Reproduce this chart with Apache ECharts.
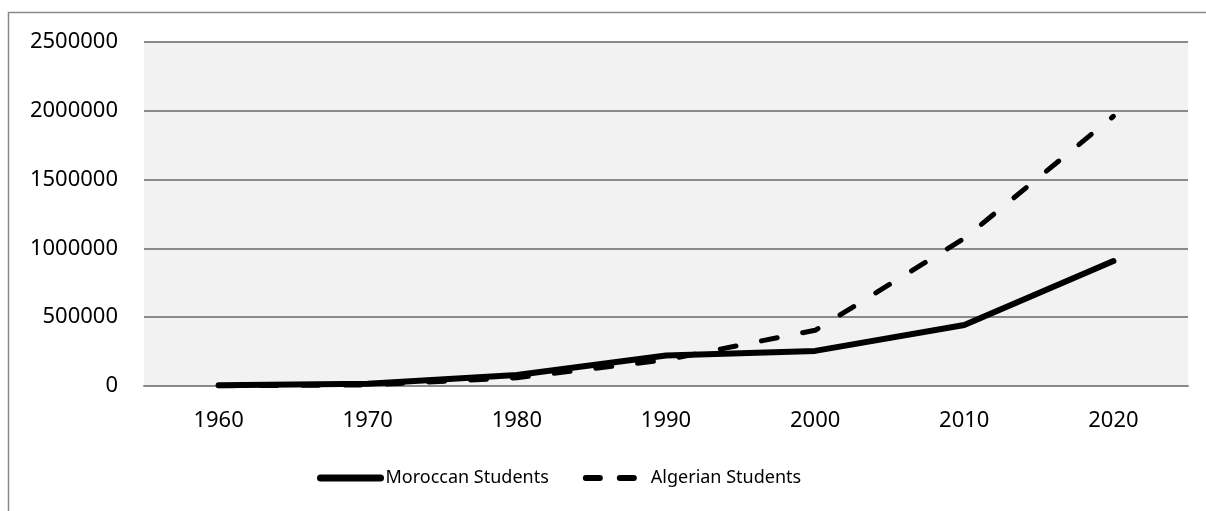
<!DOCTYPE html>
<html>
<head>
<meta charset="utf-8">
<script src="https://cdn.jsdelivr.net/npm/echarts@6/dist/echarts.min.js"></script>
<style>
  html, body { margin: 0; padding: 0; background: #fff; }
  #chart { width: 1206px; height: 511px; }
</style>
</head>
<body>
<div id="chart"></div>
<script>
var years = ['1960', '1970', '1980', '1990', '2000', '2010', '2020'];
var moroccan = [5000, 16000, 80000, 222000, 255000, 443000, 908000];
var algerian = [1000, 8000, 60000, 190000, 405000, 1073000, 1960000];

var chart = echarts.init(document.getElementById('chart'));
var font = 'Noto Sans';

var option = {
    animation: false,
    backgroundColor: '#fff',
    graphic: [{
        type: 'rect',
        silent: true,
        shape: { x: 8.5, y: 12.5, width: 1300, height: 600 },
        style: { fill: 'none', stroke: '#8a8a8a', lineWidth: 1.5 }
    }],
    grid: {
        left: 144,
        right: 18,
        top: 42,
        bottom: 125,
        show: true,
        backgroundColor: '#f2f2f2',
        borderWidth: 0
    },
    legend: {
        left: 312,
        top: 464,
        itemWidth: 60,
        itemHeight: 14,
        itemGap: 34,
        textStyle: { fontFamily: font, fontSize: 18, color: '#000' },
        data: [{
            name: 'Moroccan Students',
            itemStyle: { opacity: 0 },
            lineStyle: { width: 7, cap: 'round' }
        }, {
            name: 'Algerian Students',
            itemStyle: { opacity: 0 },
            lineStyle: { width: 6, cap: 'round', type: [14, 20], dashOffset: 0 }
        }]
    },
    xAxis: {
        type: 'category',
        data: years,
        boundaryGap: true,
        axisLine: { show: true, lineStyle: { color: '#8a8a8a', width: 2 } },
        axisTick: { show: false },
        axisLabel: { fontFamily: font, fontSize: 22, color: '#000', margin: 24 }
    },
    yAxis: {
        type: 'value',
        min: 0,
        max: 2500000,
        interval: 500000,
        axisLine: { show: false },
        axisTick: { show: false },
        splitLine: { lineStyle: { color: '#8a8a8a', width: 2 } },
        axisLabel: {
            fontFamily: font, fontSize: 22, color: '#000', margin: 26,
            formatter: function (v) { return String(v); }
        }
    },
    series: [{
        name: 'Moroccan Students',
        type: 'line',
        data: moroccan,
        symbol: 'none',
        color: '#000',
        lineStyle: { color: '#000', width: 6, cap: 'round', join: 'round' }
    }, {
        name: 'Algerian Students',
        type: 'line',
        data: algerian,
        symbol: 'none',
        color: '#000',
        lineStyle: { color: '#000', width: 5, type: [16, 26], cap: 'round', join: 'round' }
    }]
};
chart.setOption(option);
</script>
</body>
</html>
